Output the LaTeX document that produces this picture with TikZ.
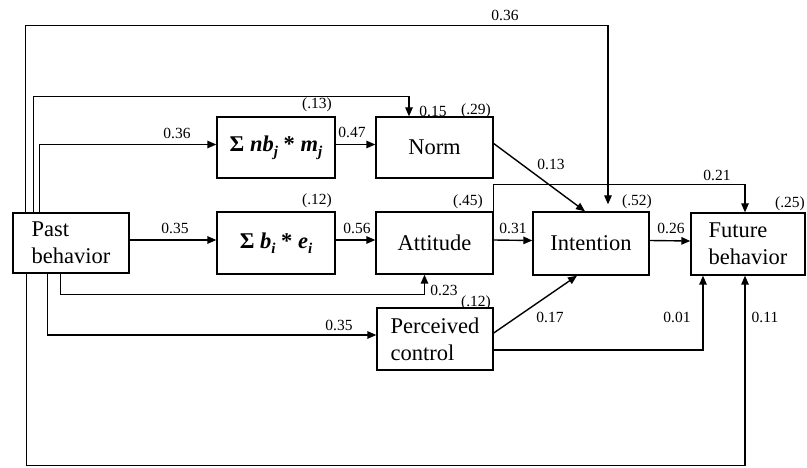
\documentclass[tikz,border=0pt]{standalone}
\usepackage{fontspec}
\setmainfont{Liberation Serif}
\usetikzlibrary{arrows.meta}
\newcommand{\lowsub}[1]{\raisebox{-0.45ex}{\fontsize{15}{15}\selectfont\textit{#1}}}
\begin{document}
\begin{tikzpicture}[x=1pt,y=-1pt,
  box/.style={draw, line width=1.4pt, inner sep=2pt, align=left,
    font=\fontsize{22.5}{27}\selectfont},
  sbox/.style={box, font=\fontsize{22.5}{27}\selectfont\bfseries},
  lab/.style={inner sep=0pt, font=\fontsize{15.5}{17}\selectfont},
  arr/.style={line width=1.4pt, -{Triangle[length=9pt,width=7.5pt]}}]
\useasboundingbox (0,0) rectangle (807,468);

% boxes
\node[box, minimum width=116pt, minimum height=60pt] (past) at (71,243) {Past\\behavior};
\node[sbox, minimum width=118pt, minimum height=61pt] (sumnb) at (276,147.5)
  {Σ \textit{nb}\lowsub{j} * \textit{m}\lowsub{j}};
\node[box, minimum width=117pt, minimum height=61pt] (norm) at (434.5,147.5) {Norm};
\node[sbox, minimum width=118pt, minimum height=62pt] (sumb) at (276,243)
  {Σ \textit{b}\lowsub{i} * \textit{e}\lowsub{i}};
\node[box, minimum width=117pt, minimum height=62pt] (attitude) at (434.5,243) {Attitude};
\node[box, minimum width=116pt, minimum height=63pt] (intention) at (591,243.5) {Intention};
\node[box, minimum width=114pt, minimum height=62pt] (future) at (748,244) {Future\\behavior};
\node[box, minimum width=116pt, minimum height=62pt] (perceived) at (435,339) {Perceived\\control};

% connectors
\draw[arr] ([xshift=13pt]past.north west) -- ++(0,-187) -| ([xshift=17pt,yshift=7pt]intention.north);
\draw[arr] ([xshift=21pt]past.north west) -- ++(0,-116) -| ([xshift=-25.5pt]norm.north);
\draw[arr] ([xshift=27pt]past.north west) |- ([yshift=3pt]sumnb.west);
\draw[arr] ([yshift=3pt]sumnb.east) -- ([yshift=3pt]norm.west);
\draw[arr] ([yshift=3pt]past.east) -- ([yshift=3pt]sumb.west);
\draw[arr] ([yshift=3pt]sumb.east) -- ([yshift=3pt]attitude.west);
\draw[arr] ([yshift=3pt]attitude.east) -- ([yshift=3pt]intention.west);
\draw[arr] ([yshift=3pt]intention.east) -- ([yshift=3pt]future.west);
\draw[arr] ([yshift=4pt]norm.east) -- ([xshift=-6pt]intention.north);
\draw[arr] (attitude.north east) -- ++(0,-27) -| ([xshift=-3pt]future.north);
\draw[arr] ([xshift=48pt]past.south west) -- ++(0,21) -| ([xshift=-10pt]attitude.south);
\draw[arr] ([xshift=35pt]past.south west) |- ([yshift=4pt]perceived.west);
\draw[arr] ([yshift=6pt]perceived.east) -- ([xshift=-14pt]intention.south);
\draw[arr] ([yshift=-11pt]perceived.east) -| ([xshift=-45pt]future.south);
\draw[arr] ([xshift=14pt]past.south west) -- ++(0,192) -| ([xshift=-3pt]future.south);

% labels
\node[lab] (l1) at (505,15) {0.36};
\node[lab] (l2) at (433,111) {0.15};
\node[lab] (r1) at (476,111) {(.29)};
\node[lab] (r2) at (317,105) {(.13)};
\node[lab] (l3) at (177,133) {0.36};
\node[lab] (l4) at (352,132) {0.47};
\node[lab] (l5) at (551,164) {0.13};
\node[lab] (l6) at (717,175) {0.21};
\node[lab] (r3) at (468,202) {(.45)};
\node[lab] (r4) at (637,202) {(.52)};
\node[lab] (r5) at (790,204) {(.25)};
\node[lab] (r6) at (317,201) {(.12)};
\node[lab] (l7) at (175,228) {0.35};
\node[lab] (l8) at (357,228) {0.56};
\node[lab] (l9) at (513,228) {0.31};
\node[lab] (l10) at (671,228) {0.26};
\node[lab] (l11) at (444,290) {0.23};
\node[lab] (r7) at (476,303) {(.12)};
\node[lab] (l12) at (339,325) {0.35};
\node[lab] (l13) at (550,317) {0.17};
\node[lab] (l14) at (677,317) {0.01};
\node[lab] (l15) at (765,317) {0.11};
\end{tikzpicture}
\end{document}
